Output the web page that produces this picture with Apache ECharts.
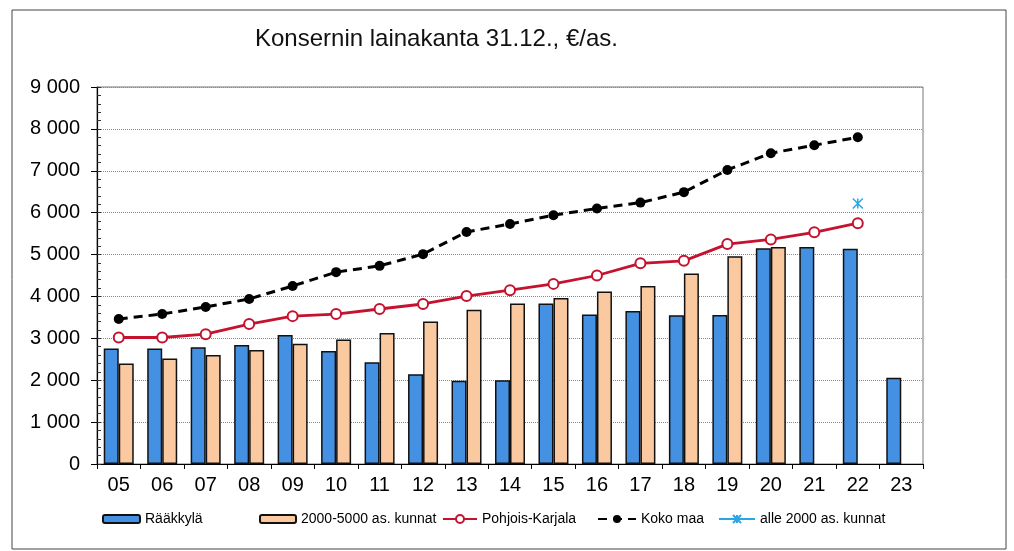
<!DOCTYPE html>
<html>
<head>
<meta charset="utf-8">
<script src="https://cdn.jsdelivr.net/npm/echarts@6/dist/echarts.min.js"></script>
<style>
html,body{margin:0;padding:0;background:#fff;}
#c{width:1014px;height:551px;}
</style>
</head>
<body>
<div id="c"></div>
<script>
const categories = ['05','06','07','08','09','10','11','12','13','14','15','16','17','18','19','20','21','22','23'];
const raakkyla = [2760,2760,2790,2840,3080,2700,2430,2140,1990,2000,3830,3570,3650,3550,3560,5150,5180,5140,2060];
const kunnat2000_5000 = [2400,2520,2600,2720,2870,2970,3130,3400,3680,3830,3960,4120,4250,4550,4960,5180,null,null,null];
const pohjoisKarjala = [3020,3020,3100,3340,3530,3580,3700,3820,4010,4150,4300,4500,4790,4850,5250,5360,5530,5750,null];
const kokoMaa = [3460,3580,3750,3940,4250,4580,4730,5010,5540,5730,5940,6100,6240,6490,7020,7420,7610,7800,null];
const alle2000 = [null,null,null,null,null,null,null,null,null,null,null,null,null,null,null,null,null,6220,null];
const names = ['Rääkkylä','2000-5000 as. kunnat','Pohjois-Karjala','Koko maa','alle 2000 as. kunnat'];

const FONT = '"Liberation Sans", Arial, sans-serif';
const chart = echarts.init(document.getElementById('c'), null, {renderer:'canvas'});
const legendBase = {bottom: 20, itemGap: 4, textStyle:{fontFamily:FONT,fontSize:14,color:'#000'}, selectedMode:false};
chart.setOption({
  animation:false,
  backgroundColor:'#fff',
  title:{text:'Konsernin lainakanta 31.12., €/as.', left:250, top:22,
    textStyle:{fontFamily:FONT,fontSize:24,fontWeight:'normal',color:'#111'}},
  graphic:[{type:'rect', shape:{x:12,y:10,width:994,height:539}, style:{fill:'none',stroke:'#444',lineWidth:1}, silent:true}],
  grid:{left:97,right:91,top:87,bottom:87,show:true,borderColor:'#777',borderWidth:1,backgroundColor:'transparent'},
  legend:[
    Object.assign({left:97, data:[names[0]], itemWidth:37, itemHeight:8}, legendBase),
    Object.assign({left:254, data:[names[1]], itemWidth:36, itemHeight:8}, legendBase),
    Object.assign({left:437, data:[names[2]], itemWidth:34, itemHeight:10}, legendBase),
    Object.assign({left:592, data:[names[3]], itemWidth:38, itemHeight:10}, legendBase),
    Object.assign({left:713, data:[names[4]], itemWidth:36, itemHeight:10}, legendBase)
  ],
  xAxis:{type:'category', data:categories,
    axisLine:{lineStyle:{color:'#000',width:1.2}},
    axisTick:{show:true,length:5,lineStyle:{color:'#000'}},
    axisLabel:{fontFamily:FONT,fontSize:20,color:'#000',margin:11}},
  yAxis:[
    {type:'value', min:0, max:9000, interval:1000,
     axisLine:{show:true,lineStyle:{color:'#000',width:1.2}},
     axisTick:{show:true,length:6,lineStyle:{color:'#000'}},
     axisLabel:{fontFamily:FONT,fontSize:20,color:'#000',margin:17,
       formatter:v=>String(v).replace(/\B(?=(\d{3})+(?!\d))/g,' ')},
     splitLine:{show:true,lineStyle:{color:'#888',type:'dotted',width:1}}},
    {type:'value', min:0, max:9000, interval:200, position:'left',
     axisLine:{show:false}, axisLabel:{show:false}, splitLine:{show:false},
     axisTick:{show:true,inside:true,length:4,lineStyle:{color:'#333'}}}
  ],
  series:[
    {name:names[0], type:'bar', data:raakkyla, barWidth:15, barGap:'0%',
     itemStyle:{color:'#4491e4',borderColor:'#111',borderWidth:1.5}},
    {name:names[1], type:'bar', data:kunnat2000_5000, barWidth:15, barGap:'0%',
     itemStyle:{color:'#fac9a0',borderColor:'#111',borderWidth:1.5}},
    {name:names[2], type:'line', data:pohjoisKarjala, symbol:'circle', symbolSize:10, z:4,
     lineStyle:{color:'#c4122f',width:2.8},
     itemStyle:{color:'#fff',borderColor:'#c4122f',borderWidth:2}},
    {name:names[3], type:'line', data:kokoMaa, symbol:'circle', symbolSize:10, z:5,
     lineStyle:{color:'#000',width:3,type:[9,6]},
     itemStyle:{color:'#000'}},
    {name:names[4], type:'line', data:alle2000, symbol:'path://M0,0L10,10M10,0L0,10M5,0L5,10', symbolSize:10, z:6,
     lineStyle:{color:'#2aa6e6',width:2},
     itemStyle:{color:'#2aa6e6',borderColor:'#2aa6e6',borderWidth:1.5}}
  ]
});
</script>
</body>
</html>
